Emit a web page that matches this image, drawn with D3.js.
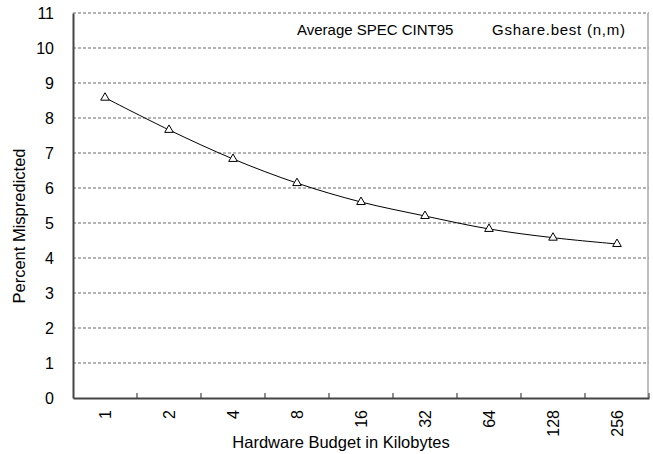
<!DOCTYPE html>
<html>
<head>
<meta charset="utf-8">
<script src="https://cdn.jsdelivr.net/npm/d3@7"></script>
<style>
  body { margin: 0; background: #fff; }
  svg text { font-family: "Liberation Sans", Arial, sans-serif; fill: #000; }
</style>
</head>
<body>
<svg id="chart" width="653" height="454"></svg>
<script>
// Hardware budget (KB) and average misprediction rate
const budgets = ["1", "2", "4", "8", "16", "32", "64", "128", "256"];
const mispredicted = [8.58, 7.66, 6.83, 6.14, 5.6, 5.2, 4.83, 4.58, 4.4];
const yTicks = [0, 1, 2, 3, 4, 5, 6, 7, 8, 9, 10, 11];

const svg = d3.select("#chart");
const m = { left: 73, right: 649, top: 13, bottom: 398 };

const x = d3.scaleBand().domain(budgets).range([m.left, m.right]);
const y = d3.scaleLinear().domain([0, 11]).range([m.bottom, m.top]);

// horizontal dashed gridlines
svg.append("g").selectAll("line")
  .data(yTicks.filter(d => d > 0))
  .join("line")
  .attr("x1", m.left).attr("x2", m.right)
  .attr("y1", d => y(d)).attr("y2", d => y(d))
  .attr("stroke", "#666").attr("stroke-width", 1)
  .attr("stroke-dasharray", "3,2");

// right frame line
svg.append("line")
  .attr("x1", m.right - 1).attr("x2", m.right - 1)
  .attr("y1", m.top).attr("y2", m.bottom)
  .attr("stroke", "#aaa").attr("stroke-width", 1.5);

// y axis
const yAxis = svg.append("g")
  .attr("transform", `translate(${m.left},0)`)
  .call(d3.axisLeft(y).tickValues(yTicks).tickSize(0).tickPadding(19).tickFormat(d3.format("d")));
yAxis.select(".domain").attr("stroke", "#444").attr("stroke-width", 2);
yAxis.selectAll("text").attr("font-size", 16).attr("fill", "#000");

// x axis with inward ticks at band boundaries
const xAxis = svg.append("g")
  .attr("transform", `translate(0,${m.bottom})`)
  .call(d3.axisBottom(x).tickSize(0).tickSizeOuter(0));
xAxis.select(".domain").attr("stroke", "#444").attr("stroke-width", 2);
xAxis.selectAll(".tick text")
  .attr("font-size", 16)
  .attr("fill", "#000")
  .attr("transform", "rotate(-90)")
  .attr("text-anchor", "end")
  .attr("x", -12).attr("y", 0).attr("dy", "0.35em");

svg.append("g").selectAll("line")
  .data(budgets.slice(1).concat(["end"]))
  .join("line")
  .attr("x1", (d, i) => x(budgets[0]) + (i + 1) * x.bandwidth())
  .attr("x2", (d, i) => x(budgets[0]) + (i + 1) * x.bandwidth())
  .attr("y1", m.bottom).attr("y2", m.bottom - 5)
  .attr("stroke", "#444").attr("stroke-width", 1.2);

// series line
const line = d3.line()
  .x((d, i) => x(budgets[i]) + x.bandwidth() / 2)
  .y(d => y(d))
  .curve(d3.curveCatmullRom);
svg.append("path")
  .datum(mispredicted)
  .attr("d", line)
  .attr("fill", "none").attr("stroke", "#000").attr("stroke-width", 1);

// triangle markers
svg.append("g").selectAll("path")
  .data(mispredicted)
  .join("path")
  .attr("d", d3.symbol(d3.symbolTriangle, 32))
  .attr("transform", (d, i) => `translate(${x(budgets[i]) + x.bandwidth() / 2},${y(d)})`)
  .attr("fill", "#fff").attr("stroke", "#000").attr("stroke-width", 1);

// annotations
svg.append("text").attr("x", 297).attr("y", 35).attr("font-size", 15)
  .text("Average SPEC CINT95");
svg.append("text").attr("x", 492).attr("y", 35).attr("font-size", 15)
  .attr("textLength", 133)
  .text("Gshare.best (n,m)");

// axis titles
svg.append("text").attr("x", 341).attr("y", 448).attr("text-anchor", "middle")
  .attr("font-size", 16.5).text("Hardware Budget in Kilobytes");
svg.append("text")
  .attr("transform", "translate(25,226) rotate(-90)")
  .attr("text-anchor", "middle").attr("font-size", 16.5)
  .text("Percent Mispredicted");
</script>
</body>
</html>
